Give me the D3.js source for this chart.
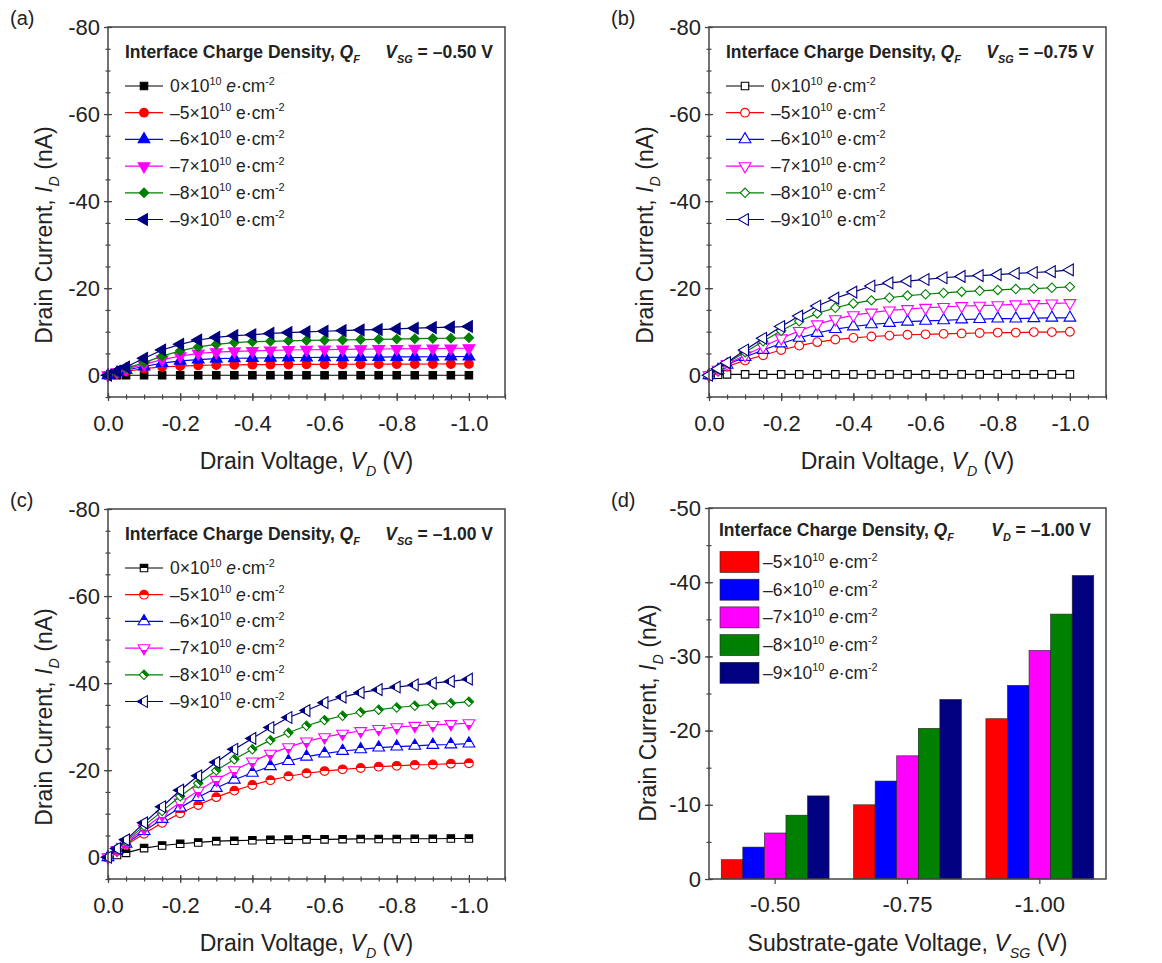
<!DOCTYPE html>
<html>
<head>
<meta charset="utf-8">
<script src="https://cdnjs.cloudflare.com/ajax/libs/d3/7.8.5/d3.min.js"></script>
<style>
  body { margin: 0; background: #fff; }
  svg { font-family: "Liberation Sans", Arial, sans-serif; }
  text { white-space: pre; fill: #222; }
</style>
</head>
<body>
<svg id="fig" width="1162" height="963"></svg>
<script>
// drain voltage sweep (V)
var drainV = [0, -0.025, -0.05, -0.1, -0.15, -0.2, -0.25, -0.3, -0.35, -0.4, -0.45, -0.5,
  -0.55, -0.6, -0.65, -0.7, -0.75, -0.8, -0.85, -0.9, -0.95, -1.0];
var charges = ['0', '–5', '–6', '–7', '–8', '–9'];
var colors = ['#000000', '#ff0000', '#0000ff', '#ff00ff', '#008000', '#000080'];
var xTicks = [0, -0.2, -0.4, -0.6, -0.8, -1.0];
var yTicks = [0, -20, -40, -60, -80];
var gateV = ['-0.50', '-0.75', '-1.00'];
var barTicks = [0, -10, -20, -30, -40, -50];

// (a) V_SG = -0.50 V, drain current in nA
var curA0 = [0, 0, 0, 0, 0, 0, 0, 0, 0, 0, 0, 0, 0, 0, 0, 0, 0, 0, 0, 0, 0, 0];
var curA5 = [0, -0.5, -0.9, -1.5, -1.9, -2.1, -2.25, -2.35, -2.4, -2.42, -2.45, -2.47, -2.5, -2.5, -2.52, -2.53, -2.55, -2.56, -2.57, -2.58, -2.59, -2.6];
var curA6 = [0, -0.6, -1.2, -2.0, -2.8, -3.3, -3.6, -3.8, -3.9, -3.95, -4.0, -4.05, -4.08, -4.1, -4.13, -4.15, -4.18, -4.2, -4.22, -4.25, -4.28, -4.3];
var curA7 = [0, -0.7, -1.4, -2.5, -3.6, -4.4, -5.0, -5.3, -5.5, -5.6, -5.7, -5.8, -5.85, -5.9, -5.95, -6.0, -6.03, -6.05, -6.1, -6.13, -6.17, -6.2];
var curA8 = [0, -0.8, -1.6, -2.9, -4.4, -5.6, -6.5, -7.1, -7.5, -7.7, -7.8, -7.9, -8.0, -8.05, -8.1, -8.2, -8.25, -8.3, -8.4, -8.45, -8.5, -8.6];
var curA9 = [0, -0.9, -1.9, -3.9, -5.8, -7.1, -8.1, -8.7, -9.1, -9.3, -9.6, -9.8, -9.95, -10.1, -10.25, -10.4, -10.5, -10.65, -10.8, -10.95, -11.05, -11.2];

// (b) V_SG = -0.75 V
var curB0 = [0, -0.1, -0.2, -0.2, -0.2, -0.2, -0.2, -0.2, -0.2, -0.2, -0.2, -0.2, -0.2, -0.2, -0.2, -0.2, -0.2, -0.2, -0.2, -0.2, -0.2, -0.2];
var curB5 = [0, -1.0, -2.0, -3.4, -4.6, -5.8, -6.8, -7.6, -8.2, -8.6, -8.9, -9.1, -9.3, -9.4, -9.5, -9.6, -9.7, -9.8, -9.8, -9.9, -9.9, -10.0];
var curB6 = [0, -1.2, -2.4, -4.2, -5.8, -7.3, -8.6, -9.7, -10.6, -11.2, -11.7, -12.0, -12.3, -12.5, -12.6, -12.8, -12.9, -13.0, -13.0, -13.1, -13.2, -13.2];
var curB7 = [0, -1.3, -2.6, -4.6, -6.6, -8.5, -10.2, -11.7, -12.9, -13.8, -14.4, -14.9, -15.2, -15.5, -15.7, -15.9, -16.0, -16.1, -16.3, -16.4, -16.5, -16.6];
var curB8 = [0, -1.4, -2.8, -5.3, -7.8, -10.2, -12.4, -14.2, -15.5, -16.5, -17.2, -17.8, -18.3, -18.6, -18.9, -19.2, -19.4, -19.6, -19.8, -19.9, -20.1, -20.3];
var curB9 = [0, -1.5, -2.9, -5.8, -8.5, -11.2, -13.6, -15.9, -17.7, -19.1, -20.5, -21.2, -21.6, -22.0, -22.4, -22.7, -22.9, -23.1, -23.4, -23.6, -23.8, -24.2];

// (c) V_SG = -1.00 V
var curC0 = [0, -0.5, -1.0, -2.1, -2.7, -3.1, -3.4, -3.7, -3.8, -3.9, -4.0, -4.05, -4.1, -4.1, -4.15, -4.2, -4.2, -4.2, -4.25, -4.25, -4.3, -4.3];
var curC5 = [0, -1.4, -2.8, -5.4, -7.9, -10.1, -12.0, -13.8, -15.3, -16.6, -17.7, -18.6, -19.3, -19.8, -20.2, -20.5, -20.8, -21.0, -21.2, -21.3, -21.5, -21.6];
var curC6 = [0, -1.6, -3.1, -6.0, -8.8, -11.4, -13.8, -15.9, -17.8, -19.4, -20.9, -22.1, -23.1, -23.8, -24.4, -24.8, -25.2, -25.4, -25.6, -25.8, -25.9, -26.1];
var curC7 = [0, -1.7, -3.4, -6.6, -9.7, -12.6, -15.3, -17.8, -20.0, -22.0, -23.8, -25.3, -26.6, -27.6, -28.4, -29.0, -29.5, -29.9, -30.2, -30.4, -30.6, -30.8];
var curC8 = [0, -1.9, -3.7, -7.2, -10.6, -14.0, -17.0, -19.9, -22.5, -24.8, -26.9, -28.6, -30.2, -31.5, -32.5, -33.3, -33.9, -34.4, -34.8, -35.1, -35.4, -35.7];
var curC9 = [0, -2.0, -4.0, -7.9, -11.6, -15.4, -18.7, -21.8, -24.8, -27.3, -29.8, -32.1, -33.7, -35.5, -36.8, -37.8, -38.5, -39.1, -39.6, -40.0, -40.4, -40.9];

// (d) V_D = -1.00 V, one value per V_SG
var barQ5 = [-2.6, -10.0, -21.6];
var barQ6 = [-4.3, -13.2, -26.1];
var barQ7 = [-6.2, -16.6, -30.8];
var barQ8 = [-8.6, -20.3, -35.7];
var barQ9 = [-11.2, -24.2, -40.9];

var svg = d3.select('#fig');
var W = 397;

// marker shape for each charge density
var shapes = [
  {type: d3.symbolSquare, size: 56, rot: 0},
  {type: d3.symbolCircle, size: 60, rot: 0},
  {type: d3.symbolTriangle, size: 60, rot: 0},
  {type: d3.symbolTriangle, size: 60, rot: 180},
  {type: d3.symbolSquare, size: 44, rot: 45},
  {type: d3.symbolTriangle, size: 60, rot: -90}
];

// half filled symbols for panel (c)
var defs = svg.append('defs');
colors.forEach(function(c, i) {
  var gr = defs.append('linearGradient').attr('id', 'half' + i)
    .attr('x1', 0).attr('y1', 0).attr('x2', 0).attr('y2', 1);
  gr.append('stop').attr('offset', 0.5).attr('stop-color', c);
  gr.append('stop').attr('offset', 0.5).attr('stop-color', '#fff');
});

function rich(g, x, y, runs, size, anchor) {
  var t = g.append('text').attr('x', x).attr('y', y)
    .attr('font-size', size).attr('text-anchor', anchor || 'start');
  var shift = 0;
  runs.forEach(function(r) {
    var s = t.append('tspan').text(r.t);
    var want = r.sub ? size * 0.3 : (r.sup ? -size * 0.42 : 0);
    s.attr('dy', want - shift);
    shift = want;
    if (r.sub || r.sup) s.attr('font-size', size * 0.62);
    if (r.i) s.attr('font-style', 'italic');
    if (r.b) s.attr('font-weight', 'bold');
  });
  return t;
}

function chargeRuns(i, italicE) {
  return [{t: charges[i] + '×10'}, {t: '10', sup: true}, {t: ' '},
    {t: 'e', i: italicE}, {t: '·cm'}, {t: '-2', sup: true}];
}

function axes(g, x, y, h, xVals, xMinor, yVals, yMinor, xFmt, crossX) {
  var ax = g.append('g').attr('transform', 'translate(0,' + h + ')')
    .call(d3.axisBottom(x).tickValues(xVals).tickSize(crossX ? 4 : 5).tickPadding(crossX ? 14 : 12).tickFormat(xFmt));
  if (crossX) {
    g.append('g').attr('transform', 'translate(0,' + h + ')')
      .call(d3.axisBottom(x).tickValues(xVals).tickSize(-4).tickFormat(''));
    g.append('g').attr('transform', 'translate(0,' + h + ')')
      .call(d3.axisBottom(x).tickValues(xMinor).tickSize(2.5).tickFormat(''));
    g.append('g').attr('transform', 'translate(0,' + h + ')')
      .call(d3.axisBottom(x).tickValues(xMinor).tickSize(-2.5).tickFormat(''));
  }
  var ay = g.append('g')
    .call(d3.axisLeft(y).tickValues(yVals).tickSize(4).tickPadding(4).tickFormat(function(d) { return String(d); }));
  g.append('g').call(d3.axisLeft(y).tickValues(yVals).tickSize(-4).tickFormat(''));
  g.append('g').call(d3.axisLeft(y).tickValues(yMinor).tickSize(2.5).tickFormat(''));
  g.append('g').call(d3.axisLeft(y).tickValues(yMinor).tickSize(-2.5).tickFormat(''));
  g.selectAll('.domain').remove();
  g.selectAll('.tick line').attr('stroke', '#444').attr('stroke-width', 1.2);
  [ax, ay].forEach(function(a) {
    a.attr('font-size', 22).attr('font-family', null);
    a.selectAll('text').attr('fill', '#222');
  });
}

function titles(g, h, xRuns, yRuns, yTitleX, yTitleY) {
  rich(g, W / 2, h + 72, xRuns, 23, 'middle');
  var t = rich(g, 0, 0, yRuns, 23, 'middle');
  t.attr('transform', 'translate(' + yTitleX + ',' + yTitleY + ') rotate(-90)');
}

function curvePanel(label, vsg, left, top, series, style, italicAll) {
  var h = 370;
  var g = svg.append('g').attr('transform', 'translate(' + left + ',' + top + ')');
  var x = d3.scaleLinear().domain([0, -1.1]).range([0, W]);
  var y = d3.scaleLinear().domain([5, -80]).range([h, 0]);

  g.append('text').attr('x', -98).attr('y', -2).attr('font-size', 20).text(label);

  var xMinor = d3.range(0, 23).map(function(k) { return -k * 0.05; });
  var yMinor = d3.range(-1, 17).map(function(k) { return -k * 5; });
  axes(g, x, y, h, xTicks, xMinor, yTicks, yMinor, function(d) { return d.toFixed(1); }, true);

  var line = d3.line().x(function(d) { return x(d[0]); }).y(function(d) { return y(d[1]); });
  series.forEach(function(vals, i) {
    var pts = drainV.map(function(v, k) { return [v, vals[k]]; });
    g.append('path').datum(pts).attr('d', line).attr('fill', 'none')
      .attr('stroke', colors[i]).attr('stroke-width', 1.2);
    g.append('g').selectAll('path').data(pts).enter().append('path')
      .attr('d', d3.symbol().type(shapes[i].type).size(shapes[i].size))
      .attr('transform', function(d) { return 'translate(' + x(d[0]) + ',' + y(d[1]) + ') rotate(' + shapes[i].rot + ')'; })
      .attr('fill', style === 'filled' ? colors[i] : (style === 'open' ? '#fff' : 'url(#half' + i + ')'))
      .attr('stroke', colors[i]).attr('stroke-width', 1.1);
  });

  g.append('rect').attr('width', W).attr('height', h)
    .attr('fill', 'none').attr('stroke', '#444').attr('stroke-width', 1.5);

  // legend
  rich(g, 17, 31, [{t: 'Interface Charge Density, ', b: true}, {t: 'Q', b: true, i: true}, {t: 'F', b: true, i: true, sub: true}], 17.5);
  rich(g, W - 12, 31, [{t: 'V', b: true, i: true}, {t: 'SG', b: true, i: true, sub: true}, {t: ' = ' + vsg + ' V', b: true}], 17.5, 'end');
  charges.forEach(function(c, i) {
    var cy = 59 + i * 26.7;
    g.append('line').attr('x1', 17).attr('x2', 55).attr('y1', cy).attr('y2', cy)
      .attr('stroke', colors[i]).attr('stroke-width', 1.2);
    g.append('path').attr('d', d3.symbol().type(shapes[i].type).size(shapes[i].size))
      .attr('transform', 'translate(36,' + cy + ') rotate(' + shapes[i].rot + ')')
      .attr('fill', style === 'filled' ? colors[i] : (style === 'open' ? '#fff' : 'url(#half' + i + ')'))
      .attr('stroke', colors[i]).attr('stroke-width', 1.1);
    rich(g, 62, cy + 6, chargeRuns(i, italicAll || i === 0), 17.5);
  });

  titles(g, h, [{t: 'Drain Voltage, '}, {t: 'V', i: true}, {t: 'D', i: true, sub: true}, {t: ' (V)'}],
    [{t: 'Drain Current, '}, {t: 'I', i: true}, {t: 'D', i: true, sub: true}, {t: ' (nA)'}], -56, 208);
}

function barPanel(left, top) {
  var h = 371;
  var g = svg.append('g').attr('transform', 'translate(' + left + ',' + top + ')');
  var x0 = d3.scaleBand().domain(gateV).range([0, W]).paddingInner(0.185).paddingOuter(0.0925);
  var x1 = d3.scaleBand().domain(d3.range(5)).range([0, x0.bandwidth()]);
  var y = d3.scaleLinear().domain([0, -50]).range([h, 0]);
  var bars = [barQ5, barQ6, barQ7, barQ8, barQ9];

  g.append('text').attr('x', -98).attr('y', -1).attr('font-size', 20).text('(d)');

  bars.forEach(function(vals, i) {
    g.append('g').selectAll('rect').data(vals).enter().append('rect')
      .attr('x', function(d, k) { return x0(gateV[k]) + x1(i); })
      .attr('y', function(d) { return y(d); })
      .attr('width', x1.bandwidth())
      .attr('height', function(d) { return h - y(d); })
      .attr('fill', colors[i + 1]).attr('stroke', '#222').attr('stroke-width', 0.6);
  });

  var yMinor = d3.range(0, 11).map(function(k) { return -k * 5; });
  var gx = g.append('g').attr('transform', 'translate(0,' + h + ')')
    .call(d3.axisBottom(x0).tickSize(5).tickPadding(12));
  gx.attr('font-size', 22).attr('font-family', null);
  gx.selectAll('text').attr('fill', '#222');
  axes(g, x0, y, h, [], [], barTicks, yMinor, null, false);
  g.selectAll('.domain').remove();
  g.selectAll('.tick line').attr('stroke', '#444').attr('stroke-width', 1.2);

  g.append('rect').attr('width', W).attr('height', h)
    .attr('fill', 'none').attr('stroke', '#444').attr('stroke-width', 1.5);

  rich(g, 10, 28, [{t: 'Interface Charge Density, ', b: true}, {t: 'Q', b: true, i: true}, {t: 'F', b: true, i: true, sub: true}], 17.5);
  rich(g, W - 15, 28, [{t: 'V', b: true, i: true}, {t: 'D', b: true, i: true, sub: true}, {t: ' = –1.00 V', b: true}], 17.5, 'end');
  d3.range(5).forEach(function(i) {
    var cy = 54 + i * 27.7;
    g.append('rect').attr('x', 11).attr('y', cy - 10.5).attr('width', 39).attr('height', 21)
      .attr('fill', colors[i + 1]).attr('stroke', '#222').attr('stroke-width', 0.6);
    rich(g, 54, cy + 6, chargeRuns(i + 1, i > 0), 17.5);
  });

  titles(g, h, [{t: 'Substrate-gate Voltage, '}, {t: 'V', i: true}, {t: 'SG', i: true, sub: true}, {t: ' (V)'}],
    [{t: 'Drain Current, '}, {t: 'I', i: true}, {t: 'D', i: true, sub: true}, {t: ' (nA)'}], -53, 205);
}

curvePanel('(a)', '–0.50', 108, 27, [curA0, curA5, curA6, curA7, curA8, curA9], 'filled', false);
curvePanel('(b)', '–0.75', 709, 27, [curB0, curB5, curB6, curB7, curB8, curB9], 'open', false);
curvePanel('(c)', '–1.00', 108, 509, [curC0, curC5, curC6, curC7, curC8, curC9], 'half', true);
barPanel(709, 508);
</script>
</body>
</html>
